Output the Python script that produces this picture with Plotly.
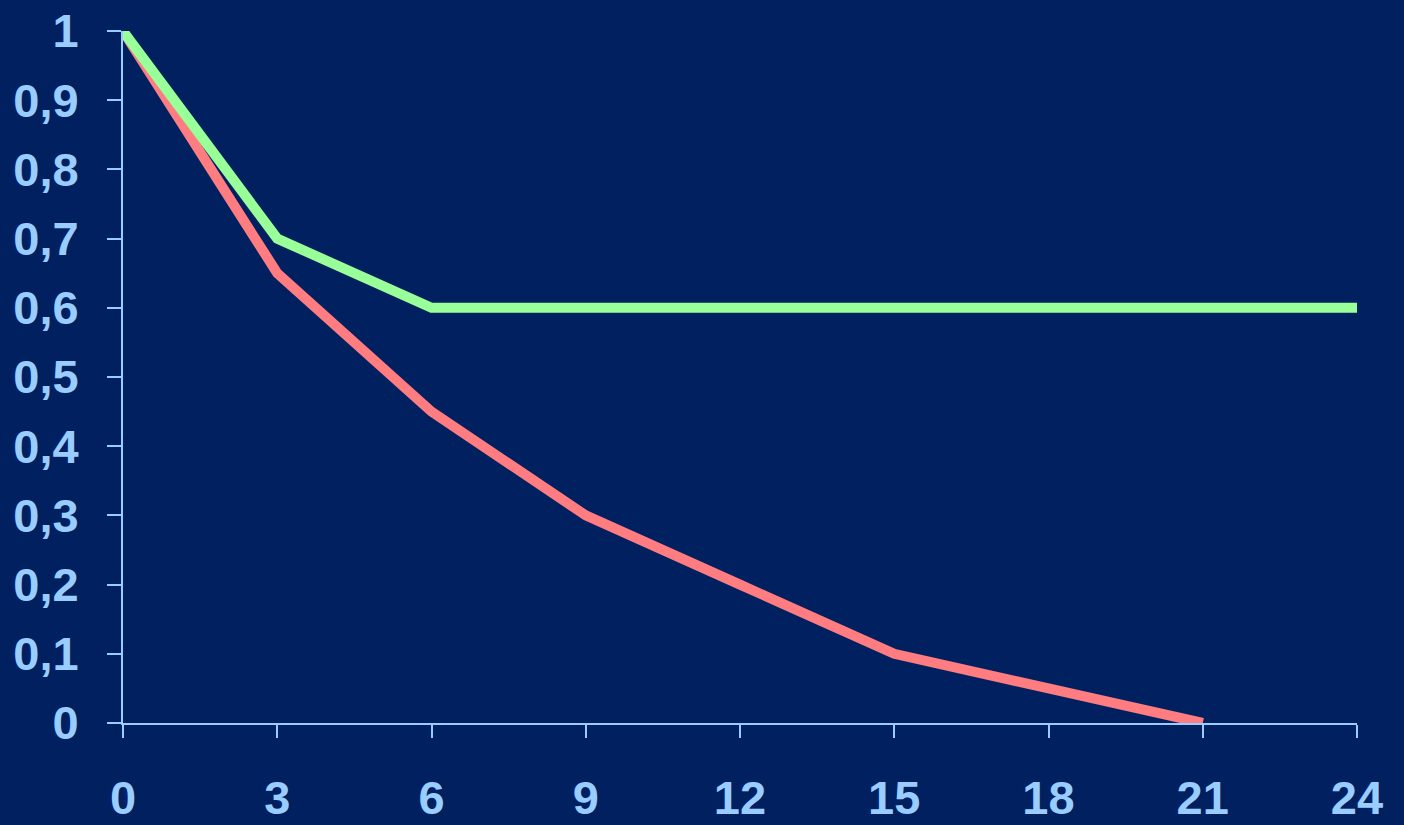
import plotly.graph_objects as go

# Months of follow-up and the two survival curves
months = [0, 3, 6, 9, 12, 15, 18, 21, 24]
green_curve = [1.0, 0.7, 0.6, 0.6, 0.6, 0.6, 0.6, 0.6, 0.6]
red_months = [0, 3, 6, 9, 12, 15, 18, 21]
red_curve = [1.0, 0.65, 0.45, 0.3, 0.2, 0.1, 0.05, 0.0]

y_tickvals = [0, 0.1, 0.2, 0.3, 0.4, 0.5, 0.6, 0.7, 0.8, 0.9, 1]
y_ticktext = ["0", "0,1", "0,2", "0,3", "0,4", "0,5", "0,6", "0,7", "0,8", "0,9", "1"]
x_tickvals = months
x_ticktext = [str(m) for m in months]

BG = "#002060"
AXIS = "#99CCFF"
LABEL = "#99CCFF"

fig = go.Figure()
fig.add_trace(go.Scatter(
    x=red_months, y=red_curve, mode="lines",
    line=dict(color="#FF7C80", width=10),
    cliponaxis=False, showlegend=False,
))
fig.add_trace(go.Scatter(
    x=months, y=green_curve, mode="lines",
    line=dict(color="#99FF99", width=10),
    cliponaxis=False, showlegend=False,
))

fig.update_layout(
    width=1404, height=825,
    paper_bgcolor=BG, plot_bgcolor=BG,
    margin=dict(l=123, r=47, t=31, b=102, autoexpand=False),
    font=dict(family="Liberation Sans, Arial, sans-serif", size=47,
              color=LABEL, weight="bold"),
    separators=", ",
)
fig.update_xaxes(
    range=[0, 24], tickvals=x_tickvals, ticktext=x_ticktext,
    showgrid=False, zeroline=False, automargin=False,
    showline=True, linecolor=AXIS, linewidth=2,
    ticks="outside", ticklen=13, tickwidth=2, tickcolor=AXIS,
    ticklabelstandoff=20,
)
fig.update_yaxes(
    range=[0, 1], tickvals=y_tickvals, ticktext=y_ticktext,
    showgrid=False, zeroline=False, automargin=False,
    showline=True, linecolor=AXIS, linewidth=2,
    ticks="outside", ticklen=14, tickwidth=2, tickcolor=AXIS,
    ticklabelstandoff=19,
)

fig.write_html("out.html")
